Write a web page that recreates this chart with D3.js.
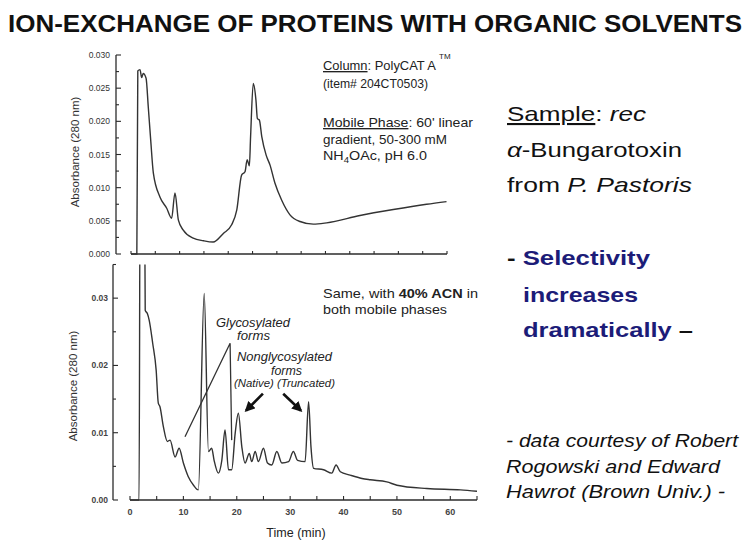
<!DOCTYPE html>
<html><head><meta charset="utf-8">
<script src="https://cdn.jsdelivr.net/npm/d3@7"></script>
<style>
body{margin:0;background:#fff;}
svg{display:block;font-family:"Liberation Sans",Arial,sans-serif;}
</style></head>
<body>
<svg id="c" width="750" height="551"></svg>
<script>
// ---------- data ----------
const topTime = [0, 1.2, 1.4, 1.85, 2.2, 2.5, 3.1, 3.55, 4.05, 4.6, 5.95, 7.35, 8.35, 9.05, 9.75, 10.75, 12.8, 14.9, 16.9, 19.0, 20.7, 21.75, 22.75, 23.45, 23.9, 24.35, 24.6, 25.15, 25.7, 26.0, 26.4, 26.9, 27.8, 28.6, 29.6, 31.0, 32.7, 34.75, 37.5, 40.25, 47.1, 53.95, 60.8, 64.9];
const topAbs  = [0, 0, 0.0276, 0.0278, 0.0266, 0.0272, 0.0265, 0.0222, 0.0172, 0.0122, 0.0086, 0.0069, 0.0054, 0.0092, 0.0051, 0.0036, 0.0024, 0.0020, 0.0018, 0.0031, 0.0044, 0.0066, 0.0119, 0.0124, 0.0142, 0.0133, 0.0177, 0.0257, 0.0232, 0.0204, 0.0202, 0.0177, 0.0149, 0.0134, 0.0107, 0.0081, 0.0059, 0.0049, 0.0045, 0.0047, 0.0058, 0.0067, 0.0075, 0.0079];

const botTime = [0, 1.7, 1.9, 2.7, 2.85, 3.25, 3.6, 4.25, 4.9, 5.3, 5.6, 6.25, 7.0, 7.5, 8.45, 9.2, 10.0, 10.9, 11.9, 12.8, 13.9, 14.7, 15.3, 15.75, 16.55, 17.2, 17.8, 18.45, 19.05, 19.7, 20.3, 20.95, 21.55, 22.35, 22.8, 23.45, 24.05, 25.0, 25.75, 26.55, 27.5, 28.45, 29.7, 30.6, 31.4, 32.8, 33.45, 33.9, 34.4, 36.25, 37.8, 38.6, 39.4, 41.25, 43.45, 45.0, 48.1, 50.0, 55.6, 61.9, 65.0];
const botAbs  = [0, 0, 0.05, 0.05, 0.0282, 0.0277, 0.0267, 0.0233, 0.0193, 0.0144, 0.0139, 0.0109, 0.0087, 0.0089, 0.0064, 0.0077, 0.0055, 0.0035, 0.0022, 0.0015, 0.0307, 0.0072, 0.0077, 0.0059, 0.0040, 0.0059, 0.0104, 0.0045, 0.0045, 0.0099, 0.0129, 0.0079, 0.0055, 0.0069, 0.0057, 0.0072, 0.0057, 0.0077, 0.0055, 0.0052, 0.0072, 0.0055, 0.0057, 0.0072, 0.0059, 0.0057, 0.0146, 0.0079, 0.0047, 0.0045, 0.0040, 0.0052, 0.0042, 0.0037, 0.0032, 0.0030, 0.0027, 0.0022, 0.0017, 0.0015, 0.0013];

const topYTicks = [0, 0.005, 0.010, 0.015, 0.020, 0.025, 0.030];
const topYLabels = ["0.000","0.005","0.010","0.015","0.020","0.025","0.030"];
const botYTicks = [0, 0.01, 0.02, 0.03];
const botYLabels = ["0.00","0.01","0.02","0.03"];
const botXTicks = [0, 10, 20, 30, 40, 50, 60];
const xMinorTicks = [0,5,10,15,20,25,30,35,40,45,50,55,60,65];

// annotation pointers (time, absorbance)
const glycoLine = [[10.3, 0.0094], [18.75, 0.0233], [19.05, 0.0089]];
const nativeArrow = [[24.9, 0.0158], [21.75, 0.0133]];
const truncArrow = [[28.7, 0.0158], [32.0, 0.0133]];

// ---------- drawing ----------
const svg = d3.select("#c");
const ink = "#2b2b2b";

svg.append("text").attr("x", 8).attr("y", 31.5)
  .attr("font-size", 24).attr("font-weight", "bold").attr("fill", "#111")
  .attr("textLength", 734).attr("lengthAdjust", "spacingAndGlyphs")
  .text("ION-EXCHANGE OF PROTEINS WITH ORGANIC SOLVENTS");

// ---- top panel ----
const xT = d3.scaleLinear().domain([0, 65]).range([131, 447]);
const yT = d3.scaleLinear().domain([0, 0.030]).range([254, 55]);
const gT = svg.append("g");
const yAxT = 116;
gT.append("line").attr("x1", yAxT).attr("x2", yAxT).attr("y1", yT(0.030)).attr("y2", yT(0)).attr("stroke", ink).attr("stroke-width", 1.3);
gT.append("line").attr("x1", xT(0)).attr("x2", xT(65)).attr("y1", yT(0)).attr("y2", yT(0)).attr("stroke", ink).attr("stroke-width", 1.3);
d3.range(0, 0.0301, 0.0025).forEach((v, i) => {
  gT.append("line").attr("x1", yAxT).attr("x2", yAxT + (i % 2 === 0 ? 5 : 3))
    .attr("y1", yT(v)).attr("y2", yT(v)).attr("stroke", ink).attr("stroke-width", 1.1);
});
topYTicks.forEach((v, i) => {
  gT.append("text").attr("x", yAxT - 6).attr("y", yT(v) + 3).attr("text-anchor", "end")
    .attr("font-size", 8.5).attr("fill", "#333").text(topYLabels[i]);
});
xMinorTicks.forEach(v => {
  gT.append("line").attr("x1", xT(v)).attr("x2", xT(v)).attr("y1", yT(0)).attr("y2", yT(0) - 3).attr("stroke", ink).attr("stroke-width", 1.1);
});
gT.append("text").attr("transform", `translate(79,152) rotate(-90)`).attr("text-anchor", "middle")
  .attr("font-size", 11.5).attr("fill", "#333").text("Absorbance (280 nm)");

const lineT = d3.line().x(d => xT(d[0])).y(d => yT(d[1])).curve(d3.curveMonotoneX);
gT.append("path").datum(d3.zip(topTime, topAbs)).attr("d", lineT)
  .attr("fill", "none").attr("stroke", "#333").attr("stroke-width", 1.4);

// helper for fitted text lines
function fit(sel, len) { return sel.attr("textLength", len).attr("lengthAdjust", "spacingAndGlyphs"); }

// top annotation text
const tx = 323;
const t1 = fit(gT.append("text").attr("x", tx).attr("y", 70).attr("font-size", 13.5).attr("fill", "#222"), 113);
t1.append("tspan").attr("text-decoration", "underline").text("Column");
t1.append("tspan").text(": PolyCAT A");
gT.append("text").attr("x", 439).attr("y", 59).attr("font-size", 8).attr("fill", "#222").text("TM");
fit(gT.append("text").attr("x", tx).attr("y", 87.5).attr("font-size", 13.5).attr("fill", "#222"), 105).text("(item# 204CT0503)");
const t3 = fit(gT.append("text").attr("x", tx).attr("y", 127).attr("font-size", 13.5).attr("fill", "#222"), 150);
t3.append("tspan").attr("text-decoration", "underline").text("Mobile Phase");
t3.append("tspan").text(": 60' linear");
fit(gT.append("text").attr("x", tx).attr("y", 143.5).attr("font-size", 13.5).attr("fill", "#222"), 124).text("gradient, 50-300 mM");
const t5 = fit(gT.append("text").attr("x", tx).attr("y", 160).attr("font-size", 13.5).attr("fill", "#222"), 104);
t5.append("tspan").text("NH");
t5.append("tspan").attr("font-size", 9).attr("dy", 3).text("4");
t5.append("tspan").attr("dy", -3).text("OAc, pH 6.0");

// ---- bottom panel ----
const xB = d3.scaleLinear().domain([0, 65]).range([130, 477]);
const yB = d3.scaleLinear().domain([0, 0.035]).range([500, 264.5]);
const gB = svg.append("g");
const yAxB = 113;
svg.append("clipPath").attr("id", "clipB").append("rect")
  .attr("x", 118).attr("y", yB(0.035)).attr("width", 370).attr("height", yB(0) - yB(0.035) + 2);
gB.append("line").attr("x1", yAxB).attr("x2", yAxB).attr("y1", yB(0.035)).attr("y2", yB(0)).attr("stroke", ink).attr("stroke-width", 1.3);
gB.append("line").attr("x1", xB(0)).attr("x2", xB(65)).attr("y1", yB(0)).attr("y2", yB(0)).attr("stroke", ink).attr("stroke-width", 1.3);
d3.range(0, 0.0351, 0.005).forEach((v, i) => {
  gB.append("line").attr("x1", yAxB).attr("x2", yAxB + (i % 2 === 0 ? 5 : 3))
    .attr("y1", yB(v)).attr("y2", yB(v)).attr("stroke", ink).attr("stroke-width", 1.1);
});
botYTicks.forEach((v, i) => {
  gB.append("text").attr("x", yAxB - 5).attr("y", yB(v) + 3).attr("text-anchor", "end")
    .attr("font-size", 8.5).attr("font-weight", "bold").attr("fill", "#444").text(botYLabels[i]);
});
xMinorTicks.forEach(v => {
  gB.append("line").attr("x1", xB(v)).attr("x2", xB(v)).attr("y1", yB(0)).attr("y2", yB(0) - 4).attr("stroke", ink).attr("stroke-width", 1.1);
});
botXTicks.forEach(v => {
  gB.append("text").attr("x", xB(v)).attr("y", 515).attr("text-anchor", "middle")
    .attr("font-size", 9).attr("font-weight", "bold").attr("fill", "#444").text(v);
});
gB.append("text").attr("x", 296).attr("y", 537).attr("text-anchor", "middle")
  .attr("font-size", 12.5).attr("fill", "#222").text("Time (min)");
gB.append("text").attr("transform", `translate(77,386) rotate(-90)`).attr("text-anchor", "middle")
  .attr("font-size", 11.5).attr("fill", "#333").text("Absorbance (280 nm)");

const lineB = d3.line().x(d => xB(d[0])).y(d => yB(d[1])).curve(d3.curveMonotoneX);
gB.append("path").datum(d3.zip(botTime, botAbs)).attr("d", lineB)
  .attr("clip-path", "url(#clipB)")
  .attr("fill", "none").attr("stroke", "#333").attr("stroke-width", 1.4);

// pointer lines
gB.append("path").datum(glycoLine).attr("d", d3.line().x(d => xB(d[0])).y(d => yB(d[1])))
  .attr("fill", "none").attr("stroke", "#333").attr("stroke-width", 1.3);

svg.append("defs").append("marker").attr("id", "ah").attr("viewBox", "0 0 10 10")
  .attr("refX", 8).attr("refY", 5).attr("markerWidth", 4).attr("markerHeight", 4)
  .attr("orient", "auto").append("path").attr("d", "M0,0 L10,5 L0,10 z").attr("fill", "#111");
[nativeArrow, truncArrow].forEach(a => {
  gB.append("line").attr("x1", xB(a[0][0])).attr("y1", yB(a[0][1]))
    .attr("x2", xB(a[1][0])).attr("y2", yB(a[1][1]))
    .attr("stroke", "#111").attr("stroke-width", 2.6).attr("marker-end", "url(#ah)");
});

// bottom annotation text
const b1 = fit(gB.append("text").attr("x", 323).attr("y", 297.5).attr("font-size", 13).attr("fill", "#222"), 155);
b1.append("tspan").text("Same, with ");
b1.append("tspan").attr("font-weight", "bold").text("40% ACN");
b1.append("tspan").text(" in");
fit(gB.append("text").attr("x", 323).attr("y", 313.5).attr("font-size", 13).attr("fill", "#222"), 124).text("both mobile phases");

const it = (x, y, s, fs, len) => fit(gB.append("text").attr("x", x).attr("y", y).attr("font-size", fs)
  .attr("font-style", "italic").attr("fill", "#222"), len).text(s);
it(216, 326.5, "Glycosylated", 12.5, 74);
it(237, 339.5, "forms", 12.5, 33);
it(237, 360.5, "Nonglycosylated", 12, 95);
it(271, 374.5, "forms", 12, 31);
it(234, 387, "(Native) (Truncated)", 10.5, 101);

// ---- right side text ----
const rx = 507;
const r1 = fit(svg.append("text").attr("x", rx).attr("y", 121).attr("font-size", 21).attr("fill", "#111"), 139);
r1.append("tspan").attr("text-decoration", "underline").text("Sample");
r1.append("tspan").text(": ");
r1.append("tspan").attr("font-style", "italic").text("rec");
const r2 = fit(svg.append("text").attr("x", rx).attr("y", 157).attr("font-size", 21).attr("fill", "#111"), 175);
r2.append("tspan").attr("font-style", "italic").text("α");
r2.append("tspan").text("-Bungarotoxin");
const r3 = fit(svg.append("text").attr("x", rx).attr("y", 192).attr("font-size", 21).attr("fill", "#111"), 185);
r3.append("tspan").text("from ");
r3.append("tspan").attr("font-style", "italic").text("P. Pastoris");

const navy = "#1c1c78";
const s1 = fit(svg.append("text").attr("x", rx).attr("y", 265).attr("font-size", 21).attr("font-weight", "bold"), 143);
s1.append("tspan").attr("fill", "#111").text("- ");
s1.append("tspan").attr("fill", navy).text("Selectivity");
fit(svg.append("text").attr("x", 523).attr("y", 302).attr("font-size", 21).attr("font-weight", "bold").attr("fill", navy), 115).text("increases");
const s3 = fit(svg.append("text").attr("x", 523).attr("y", 337).attr("font-size", 21).attr("font-weight", "bold"), 170);
s3.append("tspan").attr("fill", navy).text("dramatically");
s3.append("tspan").attr("fill", "#111").text(" –");

const credit = ["- data courtesy of Robert", "Rogowski and Edward", "Hawrot (Brown Univ.) -"];
const creditLen = [232, 214, 219];
credit.forEach((s, i) => {
  fit(svg.append("text").attr("x", 506).attr("y", 447 + i * 25.5).attr("font-size", 17.5)
    .attr("font-style", "italic").attr("fill", "#111"), creditLen[i]).text(s);
});
</script>
</body></html>
